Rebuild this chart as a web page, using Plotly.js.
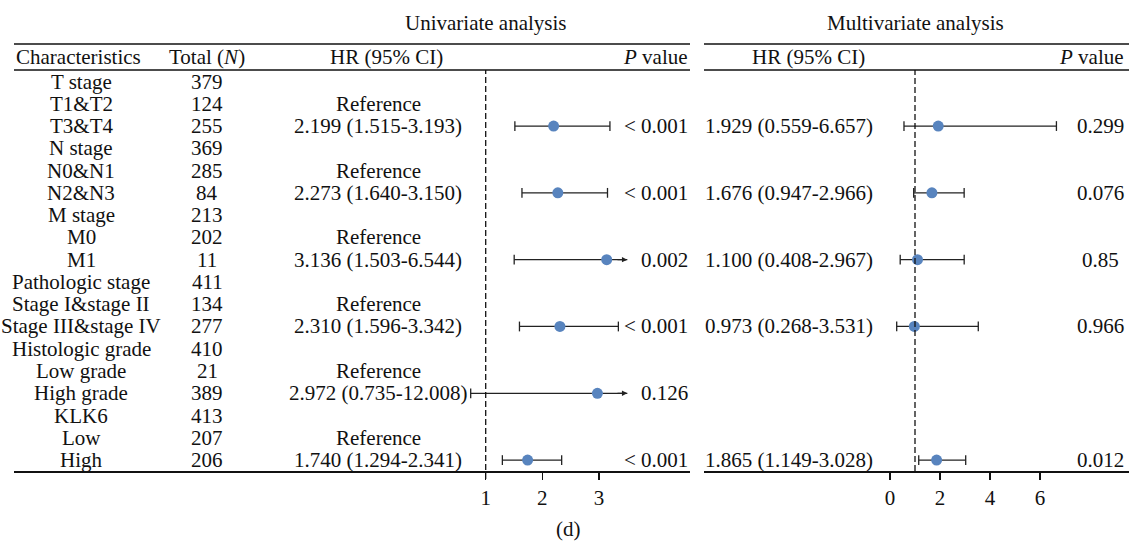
<!DOCTYPE html>
<html>
<head>
<meta charset="utf-8">
<script src="https://cdn.plot.ly/plotly-3.0.1.min.js"></script>
<style>html,body{margin:0;padding:0;background:#fff;overflow:hidden;}#chart{width:1129px;height:543px;}</style>
</head>
<body>
<div id="chart"></div>
<script>
// ---------------- DATA ----------------
const characteristics = ["T stage","T1&T2","T3&T4","N stage","N0&N1","N2&N3","M stage","M0","M1",
  "Pathologic stage","Stage I&stage II","Stage III&stage IV","Histologic grade","Low grade","High grade",
  "KLK6","Low","High"];
const totals = [379,124,255,369,285,84,213,202,11,411,134,277,410,21,389,413,207,206];
const isReference = [false,true,false,false,true,false,false,true,false,false,true,false,false,true,false,false,true,false];

const uniHR   = [null,null,2.199,null,null,2.273,null,null,3.136,null,null,2.310,null,null,2.972,null,null,1.740];
const uniLow  = [null,null,1.515,null,null,1.640,null,null,1.503,null,null,1.596,null,null,0.735,null,null,1.294];
const uniHigh = [null,null,3.193,null,null,3.150,null,null,6.544,null,null,3.342,null,null,12.008,null,null,2.341];
const uniP    = [null,null,"< 0.001",null,null,"< 0.001",null,null,"0.002",null,null,"< 0.001",null,null,"0.126",null,null,"< 0.001"];

const multiHR   = [null,null,1.929,null,null,1.676,null,null,1.100,null,null,0.973,null,null,null,null,null,1.865];
const multiLow  = [null,null,0.559,null,null,0.947,null,null,0.408,null,null,0.268,null,null,null,null,null,1.149];
const multiHigh = [null,null,6.657,null,null,2.966,null,null,2.967,null,null,3.531,null,null,null,null,null,3.028];
const multiP    = [null,null,"0.299",null,null,"0.076",null,null,"0.85",null,null,"0.966",null,null,null,null,null,"0.012"];

const uniTicks = [1,2,3];
const multiTicks = [0,2,4,6];
const uniCap = 3.5;     // display limit of the univariate forest
const multiCap = 9.5;

// ---------------- LAYOUT CONSTANTS ----------------
const W = 1129, H = 543;
const px = x => x / W;
const py = y => 1 - y / H;
const rowY0 = 81.5, rowStep = 22.27, yTop = 70, yBot = 471;
const FONT = "Liberation Serif, Times New Roman, serif";
const FS = 21;
const BLUE = "#5884be";
const CI_COLOR = "#222";

// univariate axis: value 1 at px 485.7, 56.65 px per unit, spanning 14..690
const uA = {left:14, right:690, ref:485.7, refVal:1, scale:56.65};
// multivariate axis: value 0 at px 890, 25 px per unit, spanning 704..1129
const mA = {left:704, right:1129, ref:890, refVal:0, scale:25};
function rangeOf(a){ return [a.refVal - (a.ref-a.left)/a.scale, a.refVal + (a.right-a.ref)/a.scale]; }

const n = characteristics.length;
const fmt = v => v.toFixed(3);

const traces = [];
const annotations = [];

function addForest(hr, lo, hi, cap, xaxis){
  const ptsX = [], ptsY = [];
  const capX = [], capY = [];
  for (let i = 0; i < n; i++){
    if (hr[i] == null) continue;
    const hiShown = Math.min(hi[i], cap);
    traces.push({type:"scatter", mode:"lines", x:[lo[i], hiShown], y:[i, i], xaxis:xaxis, yaxis:"y",
      line:{color:CI_COLOR, width:1.3}, hoverinfo:"skip", showlegend:false});
    capX.push(lo[i]); capY.push(i);
    if (hi[i] > cap){
      annotations.push({x:cap, y:i, xref:xaxis, yref:"y", ax:cap-0.2*(xaxis==="x"?1:4), ay:i,
        axref:xaxis, ayref:"y", showarrow:true, arrowhead:2, arrowsize:0.9, arrowwidth:1.2,
        arrowcolor:CI_COLOR, text:"", standoff:0});
    } else {
      capX.push(hi[i]); capY.push(i);
    }
    ptsX.push(hr[i]); ptsY.push(i);
  }
  traces.push({type:"scatter", mode:"markers", x:capX, y:capY, xaxis:xaxis, yaxis:"y",
    marker:{symbol:"line-ns", size:7, line:{color:CI_COLOR, width:1.3}}, hoverinfo:"skip", showlegend:false});
  traces.push({type:"scatter", mode:"markers", x:ptsX, y:ptsY, xaxis:xaxis, yaxis:"y",
    marker:{symbol:"circle", size:11, color:BLUE}, hoverinfo:"x", showlegend:false});
}
addForest(uniHR, uniLow, uniHigh, uniCap, "x");
addForest(multiHR, multiLow, multiHigh, multiCap, "x2");

// row texts
function rowText(text, x, i, anchor){
  annotations.push({text:text, x:px(x), y:i, xref:"paper", yref:"y", xanchor:anchor, yanchor:"middle",
    showarrow:false, font:{family:FONT, size:FS, color:"#111"}});
}
for (let i = 0; i < n; i++){
  rowText(characteristics[i], 81, i, "center");
  rowText(String(totals[i]), 207, i, "center");
  if (isReference[i]) rowText("Reference", 378, i, "center");
  if (uniHR[i] != null){
    rowText(fmt(uniHR[i]) + " (" + fmt(uniLow[i]) + "-" + fmt(uniHigh[i]) + ")", 378, i, "center");
    rowText(uniP[i], 690, i, "right");
  }
  if (multiHR[i] != null){
    rowText(fmt(multiHR[i]) + " (" + fmt(multiLow[i]) + "-" + fmt(multiHigh[i]) + ")", 703, i, "left");
    rowText(multiP[i], 1100, i, "center");
  }
}

// header texts (paper positioned)
function paperText(text, x, y, anchor){
  annotations.push({text:text, x:px(x), y:py(y), xref:"paper", yref:"paper", xanchor:anchor, yanchor:"middle",
    showarrow:false, font:{family:FONT, size:FS, color:"#111"}});
}
paperText("Univariate analysis", 486, 23, "center");
paperText("Multivariate analysis", 915, 23, "center");
paperText("Characteristics", 78, 57, "center");
paperText("Total (<i>N</i>)", 207, 57, "center");
paperText("HR (95% CI)", 386, 57, "center");
paperText("<i>P</i> value", 690, 57, "right");
paperText("HR (95% CI)", 808, 57, "center");
paperText("<i>P</i> value", 1126, 57, "right");
paperText("(d)", 568, 529, "center");

// rules & reference lines
const shapes = [];
function rule(x0, x1, y){
  shapes.push({type:"line", xref:"paper", yref:"paper", x0:px(x0), x1:px(x1), y0:py(y), y1:py(y),
    line:{color:"#111", width:1.5}});
}
rule(14, 690, 44); rule(14, 690, 70);
rule(704, 1129, 44); rule(704, 1129, 70);
shapes.push({type:"line", xref:"x", yref:"y domain", x0:1, x1:1, y0:-0.02, y1:1, line:{color:"#111", width:1.3, dash:"6px,3px"}});
shapes.push({type:"line", xref:"x2", yref:"y domain", x0:1, x1:1, y0:0, y1:1, line:{color:"#111", width:1.3, dash:"6px,3px"}});

const axisCommon = {showgrid:false, zeroline:false, showline:true, linecolor:"#111", linewidth:1.5,
  ticks:"outside", ticklen:7, tickwidth:1.5, tickcolor:"#111", anchor:"y", fixedrange:true,
  tickfont:{family:FONT, size:FS, color:"#111"}};

const layout = {
  width:W, height:H, margin:{l:0, r:0, t:0, b:0, pad:0},
  paper_bgcolor:"#fff", plot_bgcolor:"rgba(0,0,0,0)", showlegend:false,
  font:{family:FONT, size:FS, color:"#111"},
  xaxis:Object.assign({}, axisCommon, {domain:[px(uA.left), px(uA.right)], range:rangeOf(uA), tickvals:uniTicks}),
  xaxis2:Object.assign({}, axisCommon, {domain:[px(mA.left), 1], range:rangeOf(mA), tickvals:multiTicks}),
  yaxis:{domain:[py(yBot), py(yTop)], range:[(yBot-rowY0)/rowStep, (yTop-rowY0)/rowStep], visible:false, fixedrange:true},
  annotations:annotations, shapes:shapes
};

Plotly.newPlot("chart", traces, layout, {displayModeBar:false, staticPlot:true});
</script>
</body>
</html>
